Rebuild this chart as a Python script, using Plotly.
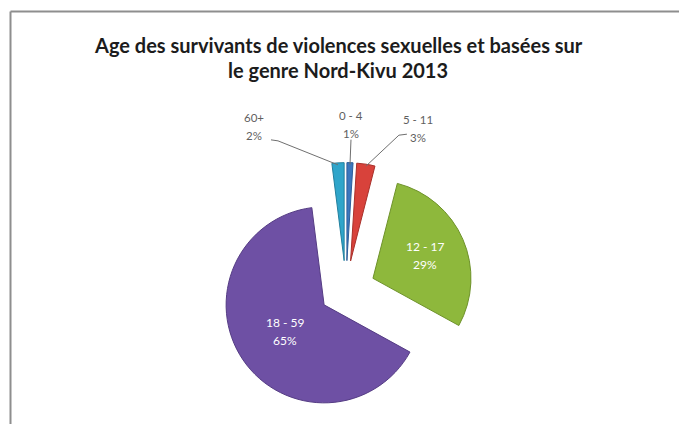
import math
import plotly.graph_objects as go

# Survivor age groups, share of cases (%), clockwise from 12 o'clock
age_groups = ["0 - 4", "5 - 11", "12 - 17", "18 - 59", "60+"]
shares = [1, 3, 29, 65, 2]
slice_colors = ["#3B77BE", "#D8423B", "#8EB83C", "#6E50A4", "#2FA5CA"]
edge_colors = ["#2C5E9A", "#A8302A", "#6E922A", "#553C84", "#22809E"]
pulls = [0.3, 0.3, 0.3, 0.27, 0.3]

title_lines = [
    "Age des survivants de violences sexuelles et basées sur",
    "le genre Nord-Kivu 2013",
]

W, H = 679, 424
dom_x = [0.3219, 0.6972]
dom_y = [0.0156, 0.6165]

fig = go.Figure(
    go.Pie(
        labels=age_groups,
        values=shares,
        sort=False,
        direction="clockwise",
        rotation=0,
        pull=pulls,
        marker=dict(colors=slice_colors, line=dict(color=edge_colors, width=1)),
        textinfo="none",
        hoverinfo="label+percent",
        domain=dict(x=dom_x, y=dom_y),
        showlegend=False,
    )
)

# Pie geometry in pixels, following plotly's own sizing of a pulled pie
box_w = W * (dom_x[1] - dom_x[0])
box_h = H * (dom_y[1] - dom_y[0])
r = min(box_w, box_h) / (2 + 2 * max(pulls))
cx = W * (dom_x[0] + dom_x[1]) / 2
cy = H * (1 - dom_y[0]) - box_h / 2

total = sum(shares)
geo = []
acc = 0.0
for v, p in zip(shares, pulls):
    mid = math.radians(360.0 * (acc + v / 2) / total)
    acc += v
    sx, sy = math.sin(mid), -math.cos(mid)
    apex = (cx + p * r * sx, cy + p * r * sy)
    geo.append(dict(apex=apex, dir=(sx, sy)))


def px(x, y):
    return x / W, 1 - y / H


annotations = []


def two_line_label(x, y, top, bottom, size, color, gap):
    for txt, dy in ((top, -gap / 2), (bottom, gap / 2)):
        ax, ay = px(x, y + dy)
        annotations.append(
            dict(
                x=ax, y=ay, xref="paper", yref="paper", text=txt,
                showarrow=False, xanchor="center", yanchor="middle",
                font=dict(family="Lato", size=size, color=color),
            )
        )


pct = [f"{round(100 * v / total)}%" for v in shares]

# Labels inside the two large slices
inside_frac = {2: 0.58, 3: 0.48}
for i, f in inside_frac.items():
    (ax0, ay0), (sx, sy) = geo[i]["apex"], geo[i]["dir"]
    two_line_label(ax0 + f * r * sx, ay0 + f * r * sy, age_groups[i], pct[i], 12, "white", 18)

# Outside labels for the thin slices, with leader lines
outside = {
    # index: (label offset from slice tip, leader start offset from label centre, elbow dx)
    0: ((1, -38), (0, 15), 0),
    1: ((52, -36), (-11, 6), -8),
    4: ((-84, -36), (17, 13), 7),
}
shapes = []
for i, ((lx, ly), (sx0, sy0), elbow) in outside.items():
    (ax0, ay0), (sx, sy) = geo[i]["apex"], geo[i]["dir"]
    tip = (ax0 + r * sx, ay0 + r * sy)
    lab = (tip[0] + lx, tip[1] + ly)
    two_line_label(lab[0], lab[1], age_groups[i], pct[i], 11.5, "#5f5f5f", 18)
    start = (lab[0] + sx0, lab[1] + sy0)
    mid = (start[0] + elbow, start[1] + (1 if elbow else 0))
    end = (tip[0], tip[1] + 2)
    pts = [px(*start), px(*mid), px(*end)]
    path = "M {} {} L {} {} L {} {}".format(*[c for p in pts for c in p])
    shapes.append(dict(type="path", xref="paper", yref="paper", path=path,
                       line=dict(color="#6f6f6f", width=1)))

# Title, two centred lines
for txt, y in zip(title_lines, (45, 70)):
    tx, ty = px(338, y)
    annotations.append(
        dict(
            x=tx, y=ty, xref="paper", yref="paper", text=txt, showarrow=False,
            xanchor="center", yanchor="middle",
            font=dict(family="Lato", size=20, color="#1c1c1c", weight="bold"),
        )
    )

# Chart area frame: top and left edges
fx, fy = px(10.5, 11.5)
shapes.append(dict(type="line", xref="paper", yref="paper",
                   x0=fx, x1=1, y0=fy, y1=fy, line=dict(color="#8e8e8e", width=2)))
shapes.append(dict(type="line", xref="paper", yref="paper",
                   x0=fx, x1=fx, y0=0, y1=fy, line=dict(color="#8e8e8e", width=2)))

fig.update_layout(
    width=W, height=H,
    margin=dict(l=0, r=0, t=0, b=0),
    paper_bgcolor="white", plot_bgcolor="white",
    annotations=annotations, shapes=shapes,
)

fig.write_html("out.html", config={"displayModeBar": False})
